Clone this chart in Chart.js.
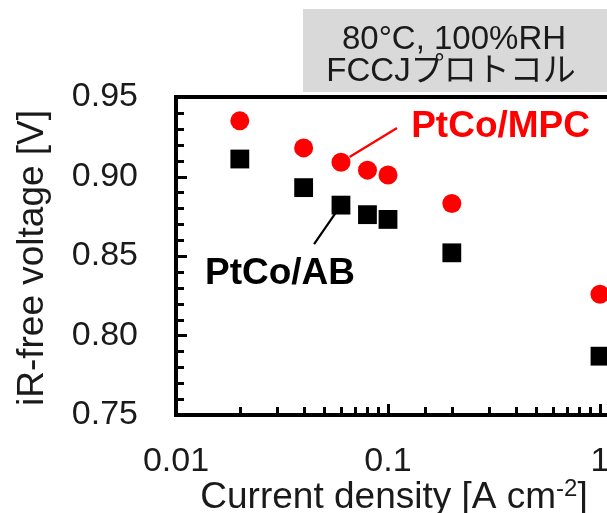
<!DOCTYPE html>
<html>
<head>
<meta charset="utf-8">
<script src="https://cdn.jsdelivr.net/npm/chart.js@4"></script>
<style>
  html, body { margin: 0; padding: 0; background: #fff; overflow: hidden; }
  #wrap { width: 607px; height: 513px; }
</style>
</head>
<body>
<div id="wrap"><canvas id="chart" width="607" height="513"></canvas></div>
<script>
const currentDensity = [0.02, 0.04, 0.06, 0.08, 0.1, 0.2, 1];
const voltageMPC = [0.935, 0.918, 0.909, 0.904, 0.901, 0.883, 0.826];
const voltageAB = [0.911, 0.893, 0.882, 0.876, 0.873, 0.852, 0.787];
const seriesNames = ['PtCo/MPC', 'PtCo/AB'];
const xTickLabels = ['0.01', '0.1', '1'];
const yTickLabels = ['0.75', '0.80', '0.85', '0.90', '0.95'];
const conditionLines = ['80°C, 100%RH', 'FCCJプロトコル'];

const FONT = '"Liberation Sans", Arial, "Noto Sans CJK JP", sans-serif';
const TEXT = '#1a1a1a';

// callout labels, placed in data units so they follow the scales
const callouts = [
  { name: seriesNames[0], color: '#ff0000', point: [0.06, 0.909], end: [0.1103, 0.9305], text: [0.1286, 0.925] },
  { name: seriesNames[1], color: '#000000', point: [0.06, 0.882], end: [0.0448, 0.8575], text: [0.0137, 0.8324] }
];

const toPoints = (ys) => currentDensity.map((x, i) => ({ x, y: ys[i] }));
const findLabel = (list, v) => list.find((l) => Math.abs(parseFloat(l) - v) < 1e-6 * Math.max(1, v)) || '';

const decorations = {
  id: 'decorations',
  beforeDraw(chart) {
    const ctx = chart.ctx;
    // condition box
    ctx.save();
    ctx.fillStyle = '#d9d9d9';
    ctx.fillRect(303, 9, 320, 83);
    ctx.fillStyle = TEXT;
    ctx.font = '33px ' + FONT;
    ctx.textAlign = 'center';
    ctx.textBaseline = 'alphabetic';
    ctx.fillText(conditionLines[0], 454, 49);
    ctx.fillText(conditionLines[1], 451, 81);
    ctx.restore();
  },
  afterDraw(chart) {
    const ctx = chart.ctx;
    const { left, top, bottom } = chart.chartArea;
    const xs = chart.scales.x;
    const ys = chart.scales.y;
    ctx.save();

    // top frame line
    ctx.strokeStyle = '#000';
    ctx.lineWidth = 4;
    ctx.beginPath();
    ctx.moveTo(left - 2, top);
    ctx.lineTo(chart.width, top);
    ctx.stroke();

    // inward tick marks
    ctx.lineWidth = 3;
    ctx.beginPath();
    ys.ticks.forEach((t) => {
      const py = Math.round(ys.getPixelForValue(t.value)) + 0.5;
      const len = findLabel(yTickLabels, t.value) ? 11 : 8;
      ctx.moveTo(left, py);
      ctx.lineTo(left + len, py);
    });
    xs.ticks.forEach((t) => {
      const px = Math.round(xs.getPixelForValue(t.value)) + 0.5;
      const len = findLabel(xTickLabels, t.value) ? 11 : 8;
      ctx.moveTo(px, bottom);
      ctx.lineTo(px, bottom - len);
    });
    ctx.stroke();

    // callouts
    callouts.forEach((c) => {
      const px = xs.getPixelForValue(c.point[0]);
      const py = ys.getPixelForValue(c.point[1]);
      const ex = xs.getPixelForValue(c.end[0]);
      const ey = ys.getPixelForValue(c.end[1]);
      const d = Math.hypot(ex - px, ey - py);
      const gap = 10;
      ctx.strokeStyle = c.color;
      ctx.lineWidth = 2.2;
      ctx.beginPath();
      ctx.moveTo(px + (ex - px) * gap / d, py + (ey - py) * gap / d);
      ctx.lineTo(ex, ey);
      ctx.stroke();
      ctx.fillStyle = c.color;
      ctx.font = 'bold 37px ' + FONT;
      ctx.textAlign = 'left';
      ctx.textBaseline = 'alphabetic';
      ctx.fillText(c.name, xs.getPixelForValue(c.text[0]), ys.getPixelForValue(c.text[1]));
    });

    // x axis title with superscript
    ctx.fillStyle = TEXT;
    ctx.textBaseline = 'alphabetic';
    ctx.textAlign = 'left';
    const main = 'Current density [A cm';
    const sup = '-2';
    const tail = ']';
    ctx.font = '37px ' + FONT;
    const wMain = ctx.measureText(main).width;
    const wTail = ctx.measureText(tail).width;
    ctx.font = '24px ' + FONT;
    const wSup = ctx.measureText(sup).width;
    const x0 = 394 - (wMain + wSup + wTail) / 2;
    const base = 508;
    ctx.font = '37px ' + FONT;
    ctx.fillText(main, x0, base);
    ctx.font = '24px ' + FONT;
    ctx.fillText(sup, x0 + wMain, base - 12);
    ctx.font = '37px ' + FONT;
    ctx.fillText(tail, x0 + wMain + wSup, base);

    // y axis title
    ctx.translate(43, 258);
    ctx.rotate(-Math.PI / 2);
    ctx.textAlign = 'center';
    ctx.font = '37px ' + FONT;
    ctx.fillText('iR-free voltage [V]', 0, 0);
    ctx.restore();
  }
};

new Chart(document.getElementById('chart'), {
  type: 'scatter',
  data: {
    datasets: [
      {
        label: seriesNames[0],
        data: toPoints(voltageMPC),
        pointStyle: 'circle',
        pointRadius: 9.5,
        backgroundColor: '#ff0000',
        borderWidth: 0,
        clip: false
      },
      {
        label: seriesNames[1],
        data: toPoints(voltageAB),
        pointStyle: 'rect',
        pointRadius: 13.3,
        backgroundColor: '#000000',
        borderWidth: 0,
        clip: false
      }
    ]
  },
  options: {
    responsive: false,
    animation: false,
    devicePixelRatio: 1,
    layout: { autoPadding: false, padding: { top: 97, left: 0, right: 0, bottom: 0 } },
    plugins: {
      legend: { display: false },
      tooltip: { enabled: false }
    },
    scales: {
      x: {
        type: 'logarithmic',
        min: 0.01,
        max: 1.079,
        grid: { display: false, drawTicks: false },
        border: { display: true, color: '#000', width: 4 },
        ticks: {
          autoSkip: false,
          maxRotation: 0,
          padding: 26,
          color: TEXT,
          font: { family: FONT, size: 34 },
          callback: (v) => findLabel(xTickLabels, v)
        },
        afterBuildTicks: (s) => {
          s.ticks = s.ticks.filter((t) => t.value <= 1.0001);
        },
        afterFit: (s) => {
          s.height = 98;
          s.paddingLeft = 0;
          s.paddingRight = 0;
        }
      },
      y: {
        min: 0.75,
        max: 0.95,
        grid: { display: false, drawTicks: false },
        border: { display: true, color: '#000', width: 4 },
        ticks: {
          stepSize: 0.01,
          autoSkip: false,
          padding: 38,
          color: TEXT,
          font: { family: FONT, size: 34 },
          callback: (v) => findLabel(yTickLabels, v)
        },
        afterFit: (s) => {
          s.width = 176;
          s.paddingTop = 0;
          s.paddingBottom = 0;
        }
      }
    }
  },
  plugins: [decorations]
});
</script>
</body>
</html>
